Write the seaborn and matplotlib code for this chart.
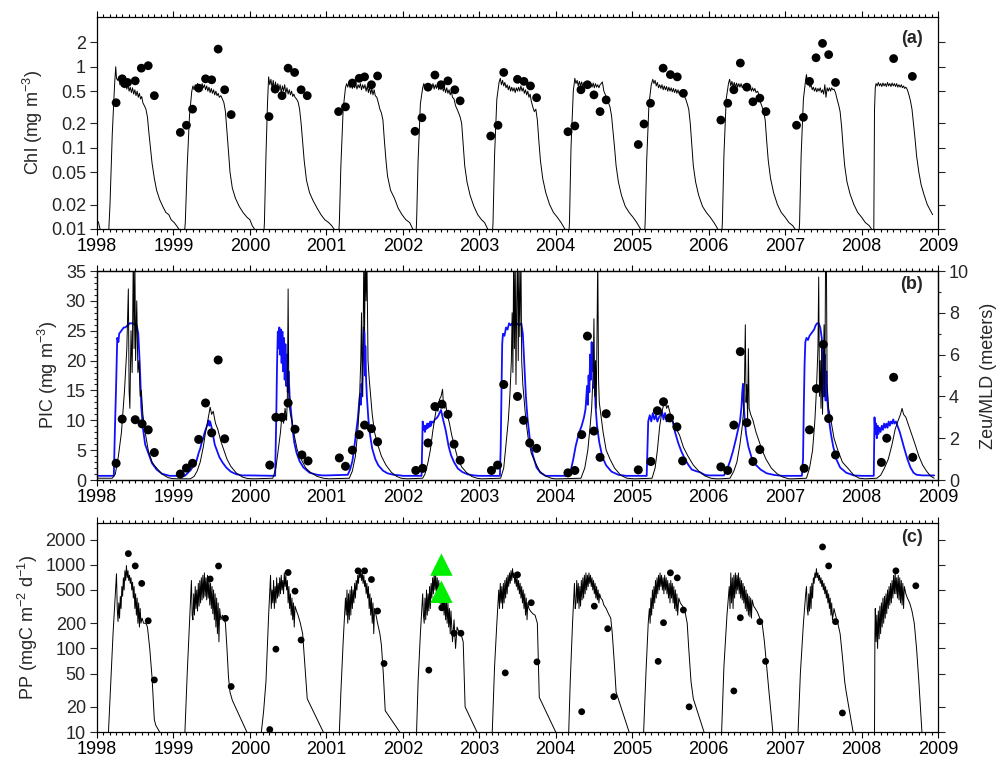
import matplotlib
matplotlib.use("Agg")
import pandas as pd
import matplotlib.pyplot as plt
from matplotlib.ticker import MultipleLocator, FixedLocator, NullLocator, FuncFormatter
import seaborn as sns

########################################################################################################################################
# panel (a) : modelled Chl (line) and observed Chl (dots), mg m-3

chl_line = [
    (1998.00,0.013),(1998.02,0.012),(1998.04,0.010),(1998.06,0.008),(1998.15,0.008),(1998.17,0.02),(1998.20,0.15),(1998.23,0.6),
    (1998.245,1.0),(1998.255,0.72),(1998.27,0.68),(1998.285,0.75),(1998.30,0.6),(1998.315,0.68),(1998.33,0.57),(1998.345,0.64),
    (1998.36,0.55),(1998.375,0.62),(1998.39,0.53),(1998.405,0.6),(1998.42,0.5),(1998.435,0.56),(1998.45,0.48),(1998.465,0.55),
    (1998.48,0.46),(1998.495,0.52),(1998.51,0.44),(1998.525,0.5),(1998.54,0.42),(1998.555,0.47),(1998.57,0.4),(1998.585,0.43),
    (1998.60,0.36),(1998.62,0.33),(1998.64,0.3),(1998.66,0.24),(1998.68,0.15),(1998.70,0.1),(1998.72,0.065),(1998.75,0.042),
    (1998.78,0.03),(1998.82,0.023),(1998.86,0.019),(1998.90,0.016),(1998.94,0.015),(1998.97,0.013),(1999.01,0.012),(1999.04,0.011),
    (1999.07,0.010),(1999.09,0.008),
    (1999.14,0.008),(1999.155,0.012),(1999.18,0.06),(1999.21,0.25),(1999.24,0.5),(1999.255,0.58),(1999.27,0.52),(1999.285,0.6),
    (1999.30,0.54),(1999.315,0.62),(1999.33,0.55),(1999.345,0.6),(1999.36,0.53),(1999.375,0.62),(1999.39,0.55),(1999.405,0.6),
    (1999.42,0.52),(1999.435,0.58),(1999.45,0.5),(1999.465,0.56),(1999.48,0.48),(1999.495,0.54),(1999.51,0.47),(1999.525,0.52),
    (1999.54,0.45),(1999.555,0.5),(1999.57,0.44),(1999.585,0.47),(1999.60,0.42),(1999.62,0.44),(1999.64,0.4),(1999.66,0.36),
    (1999.68,0.28),(1999.70,0.16),(1999.72,0.09),(1999.74,0.05),(1999.77,0.032),(1999.81,0.024),(1999.86,0.019),(1999.91,0.016),
    (1999.96,0.014),(2000.00,0.013),(2000.03,0.011),(2000.06,0.010),(2000.08,0.008),
    (2000.18,0.008),(2000.19,0.012),(2000.21,0.08),(2000.23,0.35),(2000.245,0.75),(2000.26,0.6),(2000.275,0.7),(2000.29,0.55),
    (2000.305,0.68),(2000.32,0.52),(2000.335,0.65),(2000.35,0.5),(2000.365,0.62),(2000.38,0.52),(2000.395,0.6),(2000.41,0.48),
    (2000.425,0.58),(2000.44,0.5),(2000.455,0.6),(2000.47,0.47),(2000.485,0.55),(2000.50,0.46),(2000.515,0.52),(2000.53,0.45),
    (2000.545,0.5),(2000.56,0.43),(2000.575,0.46),(2000.59,0.42),(2000.61,0.4),(2000.63,0.37),(2000.65,0.3),(2000.67,0.2),
    (2000.69,0.12),(2000.71,0.07),(2000.74,0.04),(2000.78,0.028),(2000.83,0.022),(2000.88,0.018),(2000.93,0.015),(2000.98,0.013),
    (2001.03,0.012),(2001.07,0.011),(2001.10,0.010),(2001.12,0.008),
    (2001.16,0.008),(2001.17,0.012),(2001.19,0.06),(2001.22,0.3),(2001.25,0.55),(2001.265,0.62),(2001.28,0.56),(2001.295,0.64),
    (2001.31,0.55),(2001.325,0.62),(2001.34,0.54),(2001.355,0.6),(2001.37,0.55),(2001.385,0.62),(2001.40,0.53),(2001.415,0.6),
    (2001.43,0.55),(2001.445,0.62),(2001.46,0.52),(2001.475,0.6),(2001.49,0.54),(2001.505,0.6),(2001.52,0.5),(2001.535,0.58),
    (2001.55,0.48),(2001.565,0.56),(2001.58,0.46),(2001.595,0.54),(2001.61,0.45),(2001.625,0.52),(2001.64,0.44),(2001.66,0.42),
    (2001.68,0.36),(2001.70,0.3),(2001.72,0.27),(2001.74,0.22),(2001.76,0.12),(2001.78,0.07),(2001.80,0.045),(2001.84,0.03),
    (2001.89,0.024),(2001.94,0.018),(2001.99,0.015),(2002.04,0.013),(2002.09,0.012),(2002.13,0.010),(2002.15,0.008),
    (2002.17,0.008),(2002.18,0.012),(2002.20,0.07),(2002.23,0.35),(2002.26,0.55),(2002.275,0.62),(2002.29,0.54),(2002.305,0.6),
    (2002.32,0.55),(2002.335,0.62),(2002.35,0.54),(2002.365,0.6),(2002.38,0.55),(2002.395,0.62),(2002.41,0.53),(2002.425,0.6),
    (2002.44,0.54),(2002.455,0.62),(2002.47,0.52),(2002.485,0.58),(2002.50,0.52),(2002.515,0.58),(2002.53,0.5),(2002.545,0.56),
    (2002.56,0.48),(2002.575,0.55),(2002.59,0.47),(2002.605,0.52),(2002.62,0.45),(2002.635,0.5),(2002.65,0.42),(2002.67,0.4),
    (2002.69,0.33),(2002.71,0.3),(2002.73,0.27),(2002.75,0.24),(2002.77,0.2),(2002.79,0.11),(2002.81,0.06),(2002.84,0.038),
    (2002.88,0.026),(2002.93,0.019),(2002.98,0.015),(2003.03,0.013),(2003.07,0.012),(2003.11,0.010),(2003.13,0.008),
    (2003.17,0.008),(2003.18,0.012),(2003.20,0.08),(2003.23,0.4),(2003.26,0.65),(2003.275,0.72),(2003.29,0.6),(2003.305,0.68),
    (2003.32,0.58),(2003.335,0.64),(2003.35,0.55),(2003.365,0.6),(2003.38,0.52),(2003.395,0.58),(2003.41,0.5),(2003.425,0.56),
    (2003.44,0.5),(2003.455,0.55),(2003.47,0.48),(2003.485,0.55),(2003.50,0.5),(2003.515,0.56),(2003.53,0.5),(2003.545,0.58),
    (2003.56,0.5),(2003.575,0.55),(2003.59,0.47),(2003.605,0.52),(2003.62,0.45),(2003.635,0.5),(2003.65,0.42),(2003.665,0.46),
    (2003.68,0.38),(2003.70,0.32),(2003.72,0.28),(2003.74,0.3),(2003.76,0.22),(2003.78,0.12),(2003.80,0.07),(2003.83,0.042),
    (2003.87,0.028),(2003.92,0.02),(2003.97,0.016),(2004.02,0.014),(2004.07,0.012),(2004.12,0.010),(2004.14,0.008),
    (2004.17,0.008),(2004.18,0.012),(2004.20,0.1),(2004.23,0.5),(2004.25,0.72),(2004.265,0.62),(2004.28,0.68),(2004.295,0.58),
    (2004.31,0.66),(2004.325,0.58),(2004.34,0.65),(2004.355,0.57),(2004.37,0.64),(2004.385,0.58),(2004.40,0.65),(2004.415,0.57),
    (2004.43,0.63),(2004.445,0.56),(2004.46,0.62),(2004.475,0.56),(2004.49,0.63),(2004.505,0.55),(2004.52,0.62),(2004.535,0.56),
    (2004.55,0.6),(2004.565,0.55),(2004.58,0.6),(2004.595,0.62),(2004.61,0.65),(2004.63,0.5),(2004.65,0.45),(2004.67,0.4),
    (2004.69,0.36),(2004.71,0.32),(2004.73,0.25),(2004.75,0.16),(2004.77,0.1),(2004.79,0.06),(2004.82,0.038),(2004.86,0.026),
    (2004.91,0.019),(2004.96,0.016),(2005.01,0.014),(2005.06,0.012),(2005.11,0.010),(2005.13,0.008),
    (2005.16,0.008),(2005.17,0.012),(2005.19,0.07),(2005.22,0.35),(2005.25,0.6),(2005.27,0.7),(2005.285,0.62),(2005.30,0.68),
    (2005.315,0.58),(2005.33,0.64),(2005.345,0.55),(2005.36,0.6),(2005.375,0.54),(2005.39,0.6),(2005.405,0.52),(2005.42,0.58),
    (2005.435,0.52),(2005.45,0.57),(2005.465,0.5),(2005.48,0.56),(2005.495,0.5),(2005.51,0.55),(2005.525,0.49),(2005.54,0.54),
    (2005.555,0.48),(2005.57,0.53),(2005.585,0.47),(2005.60,0.52),(2005.615,0.46),(2005.63,0.5),(2005.645,0.45),(2005.66,0.48),
    (2005.68,0.44),(2005.70,0.4),(2005.72,0.35),(2005.74,0.3),(2005.76,0.2),(2005.78,0.11),(2005.80,0.06),(2005.83,0.038),
    (2005.87,0.026),(2005.92,0.019),(2005.97,0.016),(2006.02,0.014),(2006.07,0.012),(2006.12,0.010),(2006.14,0.008),
    (2006.17,0.008),(2006.18,0.012),(2006.20,0.08),(2006.23,0.4),(2006.26,0.62),(2006.275,0.7),(2006.29,0.58),(2006.305,0.66),
    (2006.32,0.56),(2006.335,0.64),(2006.35,0.56),(2006.365,0.63),(2006.38,0.56),(2006.395,0.62),(2006.41,0.56),(2006.425,0.62),
    (2006.44,0.55),(2006.455,0.6),(2006.47,0.54),(2006.485,0.6),(2006.50,0.53),(2006.515,0.58),(2006.53,0.52),(2006.545,0.57),
    (2006.56,0.5),(2006.575,0.55),(2006.59,0.5),(2006.605,0.54),(2006.62,0.48),(2006.64,0.5),(2006.66,0.45),(2006.68,0.36),
    (2006.70,0.32),(2006.72,0.28),(2006.74,0.22),(2006.76,0.12),(2006.78,0.07),(2006.81,0.042),(2006.85,0.028),(2006.90,0.02),
    (2006.95,0.016),(2007.00,0.014),(2007.05,0.012),(2007.10,0.011),(2007.13,0.010),(2007.15,0.008),
    (2007.18,0.008),(2007.19,0.012),(2007.21,0.08),(2007.24,0.4),(2007.27,0.7),(2007.28,0.8),(2007.295,0.62),(2007.31,0.66),
    (2007.325,0.56),(2007.34,0.6),(2007.355,0.52),(2007.37,0.56),(2007.385,0.5),(2007.40,0.55),(2007.415,0.49),(2007.43,0.54),
    (2007.445,0.5),(2007.46,0.55),(2007.475,0.48),(2007.49,0.52),(2007.505,0.46),(2007.52,0.6),(2007.535,0.42),(2007.55,0.55),
    (2007.565,0.5),(2007.58,0.55),(2007.595,0.5),(2007.61,0.55),(2007.625,0.52),(2007.64,0.53),(2007.66,0.48),(2007.68,0.4),
    (2007.70,0.34),(2007.72,0.28),(2007.74,0.18),(2007.76,0.1),(2007.78,0.06),(2007.81,0.038),(2007.85,0.027),(2007.90,0.02),
    (2007.95,0.016),(2008.00,0.014),(2008.05,0.012),(2008.10,0.011),(2008.13,0.010),(2008.15,0.008),
    (2008.16,0.008),(2008.165,0.05),(2008.17,0.3),(2008.18,0.55),(2008.19,0.62),(2008.205,0.58),(2008.22,0.64),(2008.235,0.58),
    (2008.25,0.62),(2008.265,0.57),(2008.28,0.63),(2008.295,0.58),(2008.31,0.62),(2008.325,0.57),(2008.34,0.64),(2008.355,0.58),
    (2008.37,0.62),(2008.385,0.57),(2008.40,0.63),(2008.415,0.58),(2008.43,0.62),(2008.445,0.57),(2008.46,0.62),(2008.475,0.56),
    (2008.49,0.6),(2008.505,0.56),(2008.52,0.6),(2008.535,0.55),(2008.55,0.58),(2008.565,0.54),(2008.58,0.56),(2008.60,0.52),
    (2008.62,0.45),(2008.64,0.38),(2008.66,0.3),(2008.68,0.2),(2008.70,0.13),(2008.72,0.08),(2008.75,0.05),(2008.78,0.035),
    (2008.82,0.026),(2008.86,0.02),(2008.90,0.017),(2008.93,0.015),
]

chl_obs_t = [1998.25,1998.33,1998.36,1998.40,1998.50,1998.58,1998.67,1998.75,
             1999.09,1999.17,1999.25,1999.33,1999.42,1999.50,1999.585,1999.67,1999.755,
             2000.25,2000.33,2000.42,2000.50,2000.585,2000.67,2000.75,
             2001.16,2001.25,2001.34,2001.43,2001.50,2001.59,2001.67,
             2002.16,2002.25,2002.33,2002.42,2002.50,2002.59,2002.68,2002.75,
             2003.15,2003.245,2003.32,2003.50,2003.585,2003.67,2003.75,
             2004.16,2004.25,2004.33,2004.415,2004.50,2004.58,2004.66,
             2005.08,2005.155,2005.24,2005.405,2005.50,2005.59,2005.67,
             2006.16,2006.25,2006.33,2006.415,2006.50,2006.58,2006.67,2006.75,
             2007.15,2007.24,2007.32,2007.405,2007.49,2007.57,2007.66,
             2008.42,2008.665]
chl_obs_v = [0.36,0.71,0.62,0.64,0.67,0.96,1.03,0.44,
             0.155,0.19,0.30,0.545,0.71,0.69,1.65,0.52,0.257,
             0.243,0.53,0.44,0.96,0.85,0.52,0.44,
             0.28,0.32,0.63,0.72,0.75,0.60,0.77,
             0.16,0.235,0.56,0.79,0.60,0.67,0.52,0.38,
             0.14,0.19,0.85,0.70,0.66,0.58,0.415,
             0.158,0.186,0.52,0.60,0.45,0.28,0.39,
             0.11,0.197,0.355,0.96,0.80,0.75,0.47,
             0.22,0.355,0.52,1.11,0.56,0.37,0.41,0.28,
             0.19,0.238,0.66,1.29,1.94,1.41,0.64,
             1.26,0.76]

########################################################################################################################################
# panel (b) : modelled PIC (black, mg m-3), Zeu/MLD (blue, meters, right axis), observed PIC (dots)

pic_line = [
    (1998.00,0.3),(1998.20,0.3),(1998.24,1),(1998.28,4),(1998.32,8),(1998.36,15),(1998.39,22),(1998.41,32),(1998.42,15),
    (1998.43,12),(1998.445,25),(1998.46,18),(1998.475,38),(1998.485,22),(1998.495,38),(1998.505,20),(1998.52,30),(1998.535,18),
    (1998.55,20),(1998.565,14),(1998.58,15),(1998.60,11),(1998.63,8),(1998.67,5),(1998.72,3),(1998.76,2.3),(1998.85,1),
    (1998.93,0.4),(1998.98,0.25),
    (1999.05,0.2),(1999.22,0.2),(1999.27,0.6),(1999.31,1.5),(1999.35,3),(1999.39,5.5),(1999.42,8),(1999.45,10),(1999.47,11.5),
    (1999.48,12.2),(1999.50,11),(1999.52,11.5),(1999.55,9.5),(1999.58,8.5),(1999.62,6.5),(1999.66,5),(1999.70,3.5),(1999.75,2.3),
    (1999.82,1.2),(1999.90,0.5),(1999.97,0.25),
    (2000.05,0.2),(2000.30,0.3),(2000.34,2),(2000.37,5),(2000.40,8),(2000.42,11),(2000.44,9.5),(2000.46,12),(2000.48,10),
    (2000.49,14),(2000.50,32),(2000.51,13),(2000.53,11),(2000.55,10),(2000.58,7.5),(2000.62,5),(2000.67,3.5),(2000.73,2),
    (2000.80,1.2),(2000.88,0.6),(2000.96,0.3),
    (2001.03,0.2),(2001.30,0.3),(2001.34,1.5),(2001.38,4),(2001.41,8),(2001.43,12),(2001.45,20),(2001.46,28),(2001.47,14),
    (2001.48,22),(2001.49,38),(2001.50,25),(2001.51,38),(2001.52,30),(2001.53,38),(2001.545,20),(2001.56,17),(2001.58,14),
    (2001.60,11),(2001.63,8),(2001.67,6),(2001.72,4),(2001.78,2.5),(2001.85,1.3),(2001.92,0.6),(2001.98,0.3),
    (2002.05,0.2),(2002.26,0.3),(2002.29,1),(2002.33,3),(2002.36,5),(2002.39,8),(2002.42,10.5),(2002.44,12),(2002.46,11.5),
    (2002.48,13.5),(2002.50,14),(2002.52,15.2),(2002.53,13),(2002.55,12),(2002.56,13),(2002.58,11),(2002.61,9.5),(2002.64,7.5),
    (2002.68,5.5),(2002.72,3.5),(2002.77,2.2),(2002.83,1.3),(2002.90,0.6),(2002.97,0.3),
    (2003.03,0.2),(2003.28,0.3),(2003.32,2),(2003.35,6),(2003.38,10),(2003.40,14),(2003.42,20),(2003.43,28),(2003.44,18),
    (2003.45,38),(2003.46,22),(2003.47,38),(2003.48,16),(2003.49,30),(2003.50,38),(2003.51,20),(2003.52,38),(2003.53,24),
    (2003.545,38),(2003.555,20),(2003.57,16),(2003.59,13),(2003.61,10),(2003.64,7),(2003.68,4.5),(2003.73,3),(2003.79,1.5),
    (2003.86,0.7),(2003.94,0.3),(2003.99,0.2),
    (2004.05,0.2),(2004.33,0.3),(2004.38,2),(2004.42,5),(2004.45,9),(2004.47,12),(2004.49,18),(2004.50,27),(2004.51,14),
    (2004.52,20),(2004.53,12),(2004.54,24),(2004.55,38),(2004.56,17),(2004.57,13),(2004.59,11),(2004.62,8),(2004.66,5),
    (2004.71,3.5),(2004.77,2),(2004.85,0.8),(2004.93,0.3),
    (2005.03,0.2),(2005.26,0.3),(2005.30,2),(2005.33,5),(2005.36,9),(2005.39,11.5),(2005.41,12.5),(2005.43,13.5),(2005.45,12),
    (2005.47,12.5),(2005.50,11),(2005.54,9.5),(2005.58,8.5),(2005.62,7.5),(2005.67,5.5),(2005.73,4),(2005.80,2.5),(2005.87,1.5),
    (2005.95,0.7),(2006.03,0.3),(2006.10,0.2),
    (2006.15,0.2),(2006.28,0.3),(2006.33,1.5),(2006.37,3),(2006.41,6),(2006.44,9),(2006.46,12),(2006.47,17),(2006.48,26),
    (2006.49,13),(2006.50,16),(2006.51,10),(2006.52,22),(2006.53,12),(2006.55,11),(2006.58,10),(2006.62,8),(2006.66,6.5),
    (2006.70,5),(2006.75,3.5),(2006.82,2),(2006.90,1),(2006.97,0.5),(2007.05,0.2),
    (2007.10,0.2),(2007.28,0.3),(2007.32,2),(2007.36,5),(2007.39,10),(2007.41,15),(2007.43,22),(2007.44,34),(2007.45,14),
    (2007.46,20),(2007.47,12),(2007.48,22),(2007.49,11),(2007.50,18),(2007.51,26),(2007.52,14),(2007.53,38),(2007.54,38),
    (2007.55,16),(2007.57,12),(2007.60,10),(2007.64,7),(2007.69,5),(2007.75,3),(2007.82,2),(2007.90,0.8),(2007.97,0.3),
    (2008.05,0.2),(2008.20,0.3),(2008.25,0.8),(2008.30,2),(2008.35,3.5),(2008.40,6),(2008.44,8.5),(2008.48,10),(2008.51,11),
    (2008.53,12),(2008.55,11),(2008.58,10.5),(2008.62,9),(2008.66,7.5),(2008.70,6),(2008.75,4),(2008.80,2.5),(2008.85,1.5),
    (2008.90,0.7),(2008.95,0.3),
]

zeu_mld_line = [
    (1998.00,0.2),(1998.22,0.2),(1998.235,2.5),(1998.25,4.5),(1998.265,6.8),(1998.28,6.6),(1998.29,7.0),(1998.31,7.1),
    (1998.33,7.2),(1998.35,7.3),(1998.37,7.3),(1998.40,7.4),(1998.43,7.5),(1998.46,7.5),(1998.49,7.45),(1998.52,7.4),
    (1998.54,7.0),(1998.56,5.5),(1998.58,3.5),(1998.60,2.5),(1998.63,1.7),(1998.67,1.3),(1998.72,0.8),(1998.78,0.5),
    (1998.85,0.3),(1998.95,0.2),
    (1999.00,0.2),(1999.15,0.2),(1999.19,0.35),(1999.23,0.5),(1999.27,0.75),(1999.30,0.9),(1999.33,1.3),(1999.35,1.5),
    (1999.37,1.8),(1999.39,2.0),(1999.41,2.3),(1999.43,2.5),(1999.45,2.7),(1999.46,2.85),(1999.47,2.6),(1999.48,2.8),
    (1999.50,2.5),(1999.52,2.1),(1999.54,1.7),(1999.57,1.4),(1999.60,1.1),(1999.64,0.85),(1999.69,0.6),(1999.75,0.4),
    (1999.82,0.28),(1999.90,0.22),
    (2000.00,0.22),(2000.33,0.2),(2000.345,3),(2000.355,5.5),(2000.365,7.1),(2000.375,6.3),(2000.385,7.3),(2000.395,6.0),
    (2000.405,7.2),(2000.415,5.6),(2000.425,7.1),(2000.435,5.2),(2000.445,6.8),(2000.455,4.8),(2000.465,6.5),(2000.475,4.5),
    (2000.485,6.0),(2000.495,4.2),(2000.505,5.2),(2000.52,4.0),(2000.54,3.2),(2000.56,2.4),(2000.58,1.8),(2000.61,1.3),
    (2000.65,0.9),(2000.70,0.6),(2000.78,0.35),(2000.88,0.25),(2000.95,0.22),
    (2001.00,0.22),(2001.28,0.25),(2001.31,0.5),(2001.34,0.9),(2001.36,1.4),(2001.38,2.0),(2001.40,2.6),(2001.41,2.9),
    (2001.42,3.3),(2001.43,3.8),(2001.44,4.1),(2001.45,3.6),(2001.46,4.6),(2001.47,4.0),(2001.48,5.8),(2001.485,6.8),
    (2001.49,7.3),(2001.50,7.0),(2001.505,5.0),(2001.51,6.4),(2001.52,4.8),(2001.53,4.0),(2001.55,2.9),(2001.57,2.2),
    (2001.60,1.5),(2001.64,1.0),(2001.68,0.7),(2001.74,0.45),(2001.80,0.32),(2001.88,0.25),(2001.97,0.22),
    (2002.00,0.2),(2002.245,0.2),(2002.255,2.0),(2002.26,2.8),(2002.27,2.4),(2002.28,2.6),(2002.29,2.3),(2002.30,2.6),
    (2002.31,2.45),(2002.32,2.7),(2002.33,2.5),(2002.34,2.7),(2002.35,2.55),(2002.36,2.8),(2002.37,2.6),(2002.38,2.8),
    (2002.40,2.75),(2002.42,2.9),(2002.44,2.95),(2002.46,3.05),(2002.48,3.2),(2002.50,3.35),(2002.52,3.0),(2002.54,2.7),
    (2002.56,2.4),(2002.58,2.0),(2002.60,1.6),(2002.63,1.2),(2002.67,0.85),(2002.72,0.55),(2002.78,0.38),(2002.85,0.27),
    (2002.93,0.22),
    (2003.00,0.2),(2003.27,0.2),(2003.28,1.5),(2003.29,4),(2003.30,6.5),(2003.31,7.0),(2003.33,6.9),(2003.35,7.3),
    (2003.37,7.2),(2003.39,7.5),(2003.41,7.4),(2003.43,7.5),(2003.46,7.4),(2003.49,7.5),(2003.52,7.4),(2003.55,7.5),
    (2003.57,7.0),(2003.59,5.5),(2003.61,4.0),(2003.63,3.0),(2003.66,2.0),(2003.70,1.2),(2003.75,0.6),(2003.80,0.35),
    (2003.87,0.2),
    (2004.00,0.2),(2004.17,0.2),(2004.20,0.5),(2004.23,1.0),(2004.26,1.6),(2004.30,2.2),(2004.34,2.6),(2004.37,3.0),
    (2004.39,3.4),(2004.41,4.5),(2004.42,3.6),(2004.43,5.0),(2004.44,4.2),(2004.45,6.0),(2004.46,4.8),(2004.47,6.6),
    (2004.48,5.2),(2004.49,5.8),(2004.50,4.4),(2004.51,5.0),(2004.52,3.6),(2004.54,2.6),(2004.57,1.8),(2004.61,1.1),
    (2004.66,0.7),(2004.73,0.4),(2004.82,0.25),(2004.92,0.2),
    (2005.00,0.2),(2005.19,0.2),(2005.20,1.5),(2005.21,2.8),(2005.23,3.1),(2005.25,2.8),(2005.27,3.2),(2005.29,2.9),
    (2005.31,3.1),(2005.33,2.8),(2005.35,3.0),(2005.37,3.1),(2005.39,3.3),(2005.41,2.9),(2005.43,3.2),(2005.45,2.8),
    (2005.47,3.0),(2005.50,3.1),(2005.53,2.8),(2005.56,2.3),(2005.60,1.8),(2005.64,1.4),(2005.69,1.0),(2005.74,0.7),
    (2005.78,0.5),(2005.84,0.42),(2005.88,0.38),(2005.95,0.25),
    (2006.00,0.22),(2006.20,0.22),(2006.24,0.5),(2006.28,0.9),(2006.32,1.4),(2006.36,2.0),(2006.39,2.5),(2006.41,2.8),
    (2006.43,3.5),(2006.44,4.2),(2006.45,4.6),(2006.46,3.6),(2006.47,3.0),(2006.49,2.2),(2006.52,1.6),(2006.56,1.1),
    (2006.61,0.75),(2006.68,0.5),(2006.76,0.32),(2006.86,0.24),(2006.96,0.2),
    (2007.00,0.2),(2007.22,0.2),(2007.235,1),(2007.245,3.5),(2007.255,5.5),(2007.265,6.6),(2007.28,6.8),(2007.30,6.7),
    (2007.32,6.9),(2007.34,7.0),(2007.36,7.1),(2007.38,7.2),(2007.40,7.4),(2007.42,7.5),(2007.44,7.5),(2007.46,7.3),
    (2007.48,6.8),(2007.49,4.5),(2007.50,6.2),(2007.51,4.0),(2007.52,6.0),(2007.53,3.8),(2007.54,5.2),(2007.55,4.0),
    (2007.57,3.0),(2007.60,2.2),(2007.63,1.6),(2007.67,1.0),(2007.72,0.6),(2007.80,0.35),(2007.90,0.22),
    (2008.00,0.2),(2008.16,0.2),(2008.165,1.5),(2008.17,3.0),(2008.18,2.2),(2008.19,2.7),(2008.20,2.0),(2008.21,2.6),
    (2008.22,2.2),(2008.235,2.5),(2008.25,2.3),(2008.265,2.6),(2008.28,2.4),(2008.295,2.7),(2008.31,2.5),(2008.325,2.7),
    (2008.34,2.5),(2008.355,2.8),(2008.37,2.6),(2008.385,2.8),(2008.40,2.7),(2008.415,2.9),(2008.43,2.7),(2008.45,2.8),
    (2008.47,2.6),(2008.50,2.3),(2008.53,1.9),(2008.56,1.5),(2008.60,1.0),(2008.64,0.6),(2008.68,0.35),(2008.72,0.25),
    (2008.80,0.22),(2008.95,0.22),
]

pic_obs_t = [1998.25,1998.33,1998.50,1998.59,1998.67,1998.75,
             1999.09,1999.17,1999.25,1999.33,1999.42,1999.50,1999.585,1999.67,
             2000.26,2000.34,2000.42,2000.50,2000.59,2000.68,2000.76,
             2001.17,2001.25,2001.34,2001.43,2001.50,2001.59,2001.67,
             2002.17,2002.26,2002.33,2002.42,2002.51,2002.59,2002.67,2002.75,
             2003.16,2003.24,2003.32,2003.50,2003.58,2003.66,2003.75,
             2004.16,2004.25,2004.34,2004.415,2004.50,2004.58,2004.66,
             2005.08,2005.245,2005.33,2005.41,2005.49,2005.585,2005.66,
             2006.16,2006.25,2006.33,2006.415,2006.50,2006.58,2006.67,
             2007.25,2007.32,2007.41,2007.50,2007.57,2007.66,
             2008.26,2008.33,2008.42,2008.67]
pic_obs_v = [2.8,10.2,10.1,9.4,8.4,4.6,
             1.0,2.0,2.8,6.8,12.9,7.9,20.1,6.9,
             2.5,10.5,10.5,12.9,8.5,4.2,3.2,
             3.7,2.3,5.0,7.6,9.2,8.6,6.4,
             1.6,1.95,6.2,12.3,12.7,11.0,6.0,3.3,
             1.6,2.5,16.0,14.0,10.0,6.2,5.3,
             1.2,1.6,7.6,24.1,8.2,3.8,11.1,
             1.7,3.1,11.6,13.1,10.4,8.9,3.2,
             2.2,1.6,9.2,21.5,9.6,3.1,5.1,
             1.95,8.4,15.3,22.7,10.3,4.2,
             2.95,7.0,17.2,3.8]

########################################################################################################################################
# panel (c) : modelled PP (line), observed PP (dots), extra estimates (green triangles), mgC m-2 d-1

pp_line = [
    (1998.13,6),(1998.15,10),(1998.18,40),(1998.21,150),(1998.24,450),(1998.255,780),(1998.265,300),(1998.275,210),
    (1998.285,350),(1998.295,230),(1998.305,420),(1998.315,300),(1998.325,550),(1998.335,420),(1998.345,700),(1998.355,500),
    (1998.365,850),(1998.375,650),(1998.385,980),(1998.395,700),(1998.405,850),(1998.415,650),(1998.425,750),(1998.435,600),
    (1998.445,700),(1998.455,500),(1998.465,620),(1998.475,400),(1998.485,550),(1998.495,300),(1998.505,450),(1998.515,250),
    (1998.525,400),(1998.535,200),(1998.545,350),(1998.555,180),(1998.565,300),(1998.575,200),(1998.59,230),(1998.61,200),
    (1998.64,200),(1998.66,180),(1998.69,100),(1998.72,45),(1998.75,14),(1998.77,12),(1998.82,10),(1998.84,7),
    (1999.14,6),(1999.15,10),(1999.18,50),(1999.21,200),(1999.235,650),(1999.245,250),(1999.255,220),(1999.265,450),
    (1999.275,250),(1999.285,550),(1999.295,300),(1999.305,500),(1999.315,280),(1999.325,600),(1999.335,320),(1999.345,650),
    (1999.355,350),(1999.365,700),(1999.375,380),(1999.385,750),(1999.395,400),(1999.405,800),(1999.415,420),(1999.425,700),
    (1999.435,380),(1999.445,750),(1999.455,400),(1999.465,650),(1999.475,330),(1999.485,600),(1999.495,300),(1999.505,550),
    (1999.515,260),(1999.525,500),(1999.535,220),(1999.545,450),(1999.555,180),(1999.565,400),(1999.575,150),(1999.585,350),
    (1999.595,120),(1999.605,300),(1999.62,220),(1999.64,250),(1999.66,230),(1999.68,200),(1999.70,100),(1999.72,45),
    (1999.74,30),(1999.77,24),(1999.96,10),(1999.98,7),
    (2000.14,6),(2000.15,10),(2000.18,18),(2000.21,40),(2000.245,250),(2000.27,750),(2000.28,300),(2000.29,500),
    (2000.30,350),(2000.31,650),(2000.32,300),(2000.33,550),(2000.34,350),(2000.35,700),(2000.36,400),(2000.37,600),
    (2000.38,420),(2000.39,700),(2000.40,450),(2000.41,750),(2000.42,500),(2000.43,650),(2000.44,450),(2000.45,800),
    (2000.46,550),(2000.47,750),(2000.48,500),(2000.49,650),(2000.50,350),(2000.51,550),(2000.52,300),(2000.53,450),
    (2000.54,250),(2000.55,400),(2000.56,220),(2000.57,350),(2000.58,180),(2000.59,320),(2000.61,280),(2000.63,250),
    (2000.66,200),(2000.69,150),(2000.72,60),(2000.75,25),(2000.96,10),(2000.98,7),
    (2001.16,6),(2001.17,10),(2001.19,30),(2001.22,120),(2001.25,400),(2001.26,250),(2001.27,500),(2001.28,200),
    (2001.29,450),(2001.30,220),(2001.31,500),(2001.32,250),(2001.33,550),(2001.34,300),(2001.35,500),(2001.36,350),
    (2001.37,600),(2001.38,400),(2001.39,650),(2001.40,500),(2001.41,750),(2001.42,600),(2001.43,850),(2001.44,700),
    (2001.45,850),(2001.46,650),(2001.47,800),(2001.48,600),(2001.49,750),(2001.50,550),(2001.51,650),(2001.52,450),
    (2001.53,600),(2001.54,400),(2001.55,550),(2001.56,300),(2001.57,450),(2001.58,250),(2001.59,400),(2001.60,200),
    (2001.61,350),(2001.62,150),(2001.63,300),(2001.65,250),(2001.67,200),(2001.70,150),(2001.72,110),(2001.745,50),
    (2001.77,18),(2001.96,10),(2001.98,7),
    (2002.17,6),(2002.18,10),(2002.20,40),(2002.23,150),(2002.26,450),(2002.27,250),(2002.28,200),(2002.29,400),
    (2002.30,220),(2002.31,500),(2002.32,250),(2002.33,450),(2002.34,280),(2002.35,550),(2002.36,300),(2002.37,600),
    (2002.38,400),(2002.39,700),(2002.40,450),(2002.41,800),(2002.42,500),(2002.43,750),(2002.44,450),(2002.45,700),
    (2002.46,400),(2002.47,650),(2002.48,350),(2002.49,600),(2002.50,320),(2002.51,500),(2002.52,300),(2002.53,450),
    (2002.54,250),(2002.55,400),(2002.56,220),(2002.57,380),(2002.58,200),(2002.59,350),(2002.60,180),(2002.61,300),
    (2002.62,150),(2002.63,280),(2002.65,120),(2002.67,220),(2002.69,100),(2002.71,180),(2002.73,160),(2002.76,150),
    (2002.79,120),(2002.815,20),(2002.97,10),(2002.99,7),
    (2003.16,6),(2003.17,10),(2003.20,60),(2003.23,200),(2003.255,500),(2003.265,300),(2003.275,600),(2003.285,350),
    (2003.295,550),(2003.305,300),(2003.315,600),(2003.325,350),(2003.335,650),(2003.345,400),(2003.355,700),(2003.365,450),
    (2003.375,750),(2003.385,550),(2003.395,800),(2003.405,600),(2003.415,850),(2003.425,650),(2003.435,900),(2003.445,700),
    (2003.455,800),(2003.465,600),(2003.475,750),(2003.485,550),(2003.495,700),(2003.505,500),(2003.515,650),(2003.525,450),
    (2003.535,600),(2003.545,400),(2003.555,550),(2003.565,350),(2003.575,500),(2003.585,300),(2003.595,450),(2003.605,250),
    (2003.615,400),(2003.625,220),(2003.635,350),(2003.65,300),(2003.67,280),(2003.70,260),(2003.73,250),(2003.76,200),
    (2003.785,26),(2004.00,10),(2004.02,7),
    (2004.16,6),(2004.17,10),(2004.19,40),(2004.22,200),(2004.245,600),(2004.255,300),(2004.265,350),(2004.275,650),
    (2004.285,350),(2004.295,600),(2004.305,300),(2004.315,550),(2004.325,320),(2004.335,650),(2004.345,380),(2004.355,700),
    (2004.365,400),(2004.375,750),(2004.385,450),(2004.395,800),(2004.405,500),(2004.415,750),(2004.425,550),(2004.435,800),
    (2004.445,600),(2004.455,750),(2004.465,550),(2004.475,700),(2004.485,500),(2004.495,650),(2004.505,450),(2004.515,600),
    (2004.525,400),(2004.535,550),(2004.545,380),(2004.555,500),(2004.565,350),(2004.575,450),(2004.59,400),(2004.61,380),
    (2004.63,330),(2004.66,300),(2004.69,260),(2004.72,230),(2004.74,150),(2004.77,60),(2004.79,30),(2004.96,10),(2004.98,7),
    (2005.14,6),(2005.15,10),(2005.18,50),(2005.21,200),(2005.225,300),(2005.235,200),(2005.245,400),(2005.255,250),
    (2005.265,500),(2005.275,300),(2005.285,550),(2005.295,350),(2005.305,650),(2005.315,400),(2005.325,700),(2005.335,450),
    (2005.345,750),(2005.355,500),(2005.365,800),(2005.375,550),(2005.385,750),(2005.395,500),(2005.405,700),(2005.415,450),
    (2005.425,750),(2005.435,500),(2005.445,700),(2005.455,450),(2005.465,650),(2005.475,400),(2005.485,600),(2005.495,350),
    (2005.505,650),(2005.515,400),(2005.525,600),(2005.535,350),(2005.545,550),(2005.555,300),(2005.565,500),(2005.575,280),
    (2005.585,450),(2005.595,250),(2005.61,400),(2005.63,350),(2005.66,320),(2005.69,280),(2005.72,200),(2005.74,100),
    (2005.77,40),(2005.80,25),(2005.94,10),(2005.96,7),
    (2006.16,6),(2006.17,10),(2006.20,60),(2006.24,250),(2006.27,550),(2006.28,300),(2006.29,800),(2006.30,350),
    (2006.31,700),(2006.32,300),(2006.33,750),(2006.34,400),(2006.35,800),(2006.36,450),(2006.37,750),(2006.38,500),
    (2006.39,800),(2006.40,450),(2006.41,700),(2006.42,400),(2006.43,650),(2006.44,380),(2006.45,600),(2006.46,350),
    (2006.47,550),(2006.48,300),(2006.49,500),(2006.50,280),(2006.51,450),(2006.52,250),(2006.53,420),(2006.54,240),
    (2006.55,400),(2006.56,230),(2006.57,380),(2006.59,320),(2006.61,300),(2006.64,270),(2006.67,230),(2006.70,200),
    (2006.73,120),(2006.76,60),(2006.79,30),(2006.84,10),(2006.86,7),
    (2007.16,6),(2007.17,10),(2007.20,50),(2007.24,200),(2007.27,450),(2007.28,550),(2007.29,300),(2007.30,250),
    (2007.31,450),(2007.32,280),(2007.33,550),(2007.34,300),(2007.35,600),(2007.36,400),(2007.37,700),(2007.38,600),
    (2007.39,800),(2007.40,700),(2007.41,900),(2007.42,700),(2007.43,800),(2007.44,650),(2007.45,750),(2007.46,600),
    (2007.47,700),(2007.48,550),(2007.49,650),(2007.50,500),(2007.51,600),(2007.52,450),(2007.53,550),(2007.54,400),
    (2007.55,500),(2007.56,350),(2007.57,450),(2007.58,300),(2007.59,400),(2007.60,250),(2007.61,350),(2007.62,220),
    (2007.64,300),(2007.66,250),(2007.69,200),(2007.72,150),(2007.75,80),(2007.78,40),(2007.80,30),(2007.89,10),(2007.91,7),
    (2008.16,6),(2008.17,10),(2008.175,150),(2008.18,300),(2008.19,120),(2008.20,250),(2008.21,100),(2008.22,280),
    (2008.23,130),(2008.24,320),(2008.25,150),(2008.26,350),(2008.27,180),(2008.28,400),(2008.29,200),(2008.30,420),
    (2008.31,230),(2008.32,450),(2008.33,260),(2008.34,500),(2008.35,300),(2008.36,550),(2008.37,330),(2008.38,600),
    (2008.39,350),(2008.40,650),(2008.41,400),(2008.42,750),(2008.43,450),(2008.44,800),(2008.45,450),(2008.46,700),
    (2008.47,400),(2008.48,750),(2008.49,380),(2008.50,700),(2008.51,350),(2008.52,650),(2008.53,330),(2008.54,600),
    (2008.55,300),(2008.56,550),(2008.58,450),(2008.60,400),(2008.63,350),(2008.66,280),(2008.69,200),(2008.72,100),
    (2008.75,40),(2008.79,10),(2008.81,7),
]

pp_obs_t = [1998.41,1998.50,1998.585,1998.67,1998.75,
            1999.48,1999.59,1999.68,1999.755,
            2000.26,2000.34,2000.50,2000.59,2000.67,
            2001.415,2001.50,2001.59,2001.67,2001.755,
            2002.34,2002.51,2002.67,2002.76,
            2003.34,2003.50,2003.68,2003.755,
            2004.34,2004.505,2004.68,2004.76,
            2005.34,2005.41,2005.50,2005.59,2005.67,2005.745,
            2006.33,2006.415,2006.67,2006.745,
            2007.49,2007.57,2007.66,2007.75,
            2008.45,2008.71]
pp_obs_v = [1361,970,599,214,42,
            677,967,229,35,
            10.7,98,809,484,126,
            847,847,667,280,66,
            55,306,152,152,
            51,760,352,69,
            17.5,320,172,26.5,
            70,203,802,698,288,20,
            31,233,209,70,
            1636,970,209,16.9,
            847,561]

pp_tri_t = [2002.505, 2002.505]
pp_tri_v = [1006, 476]

########################################################################################################################################

sns.set_style("ticks")
plt.rcParams["font.family"] = ["Liberation Sans", "DejaVu Sans"]
plt.rcParams["mathtext.default"] = "regular"
plt.rcParams["axes.linewidth"] = 0.9

FS = 13

df_chl = pd.DataFrame(chl_line, columns=["year", "value"])
df_pic = pd.DataFrame(pic_line, columns=["year", "value"])
df_zeu = pd.DataFrame(zeu_mld_line, columns=["year", "value"])
df_pp = pd.DataFrame(pp_line, columns=["year", "value"])

fig = plt.figure(figsize=(10.02, 7.6), dpi=100)
ax_a = fig.add_axes([0.0968, 0.6987, 0.8393, 0.2789])
ax_b = fig.add_axes([0.0968, 0.3684, 0.8393, 0.2750])
ax_c = fig.add_axes([0.0968, 0.0368, 0.8393, 0.2750])
ax_b2 = ax_b.twinx()


def style_x(ax):
    ax.set_xlim(1998, 2009)
    ax.xaxis.set_major_locator(MultipleLocator(1))
    ax.xaxis.set_minor_locator(MultipleLocator(1 / 12))
    ax.xaxis.set_major_formatter(FuncFormatter(lambda v, p: "%d" % round(v)))
    ax.tick_params(axis="x", which="both", direction="out", top=True, bottom=True, width=0.8, colors="black")
    ax.tick_params(axis="x", which="major", length=4.5, labelsize=FS, pad=2)
    ax.tick_params(axis="x", which="minor", length=2)
    ax.set_xlabel("")
    for s in ax.spines.values():
        s.set_visible(True)
        s.set_color("black")


def style_log_y(ax, ticks, lims):
    ax.set_yscale("log")
    ax.set_ylim(*lims)
    ax.yaxis.set_major_locator(FixedLocator(ticks))
    ax.yaxis.set_minor_locator(NullLocator())
    ax.yaxis.set_major_formatter(FuncFormatter(lambda v, p: "%g" % v))
    ax.tick_params(axis="y", which="major", direction="out", length=5, width=0.8, left=True, right=True,
                   labelright=False, labelsize=FS, pad=3)


# (a) Chl
style_log_y(ax_a, [0.01, 0.02, 0.05, 0.1, 0.2, 0.5, 1, 2], (0.01, 4.1))
sns.lineplot(data=df_chl, x="year", y="value", ax=ax_a, color="black", linewidth=0.7, estimator=None, errorbar=None)
sns.scatterplot(x=chl_obs_t, y=chl_obs_v, ax=ax_a, color="black", s=40, edgecolor="none", zorder=4)
style_x(ax_a)
ax_a.set_ylabel("Chl (mg m$^{-3}$)", fontsize=FS)
ax_a.text(0.982, 0.90, "(a)", transform=ax_a.transAxes, ha="right", va="center", fontsize=FS, fontweight="bold")

# (b) PIC and Zeu/MLD
ax_b2.set_ylim(0, 10)
sns.lineplot(data=df_zeu, x="year", y="value", ax=ax_b2, color="#1010ff", linewidth=1.3, estimator=None, errorbar=None)
ax_b.set_zorder(ax_b2.get_zorder() + 1)
ax_b.patch.set_visible(False)
sns.lineplot(data=df_pic, x="year", y="value", ax=ax_b, color="black", linewidth=0.7, estimator=None, errorbar=None)
sns.scatterplot(x=pic_obs_t, y=pic_obs_v, ax=ax_b, color="black", s=42, edgecolor="none", zorder=4)
ax_b.set_ylim(0, 35)
ax_b.yaxis.set_major_locator(MultipleLocator(5))
ax_b.yaxis.set_minor_locator(MultipleLocator(1))
ax_b.tick_params(axis="y", which="both", direction="out", left=True, right=False, width=0.8)
ax_b.tick_params(axis="y", which="major", length=5, labelsize=FS, pad=3)
ax_b.tick_params(axis="y", which="minor", length=2)
style_x(ax_b)
ax_b.set_ylabel("PIC (mg m$^{-3}$)", fontsize=FS)
ax_b2.yaxis.set_major_locator(MultipleLocator(2))
ax_b2.yaxis.set_minor_locator(MultipleLocator(1))
ax_b2.tick_params(axis="y", which="both", direction="out", right=True, left=False, width=0.8)
ax_b2.tick_params(axis="y", which="major", length=5, labelsize=FS, pad=3)
ax_b2.tick_params(axis="y", which="minor", length=2)
ax_b2.set_xlim(1998, 2009)
ax_b2.set_xlabel("")
ax_b2.set_ylabel("Zeu/MLD (meters)", fontsize=FS, labelpad=8)
ax_b.text(0.982, 0.935, "(b)", transform=ax_b.transAxes, ha="right", va="center", fontsize=FS, fontweight="bold")

# (c) PP
style_log_y(ax_c, [10, 20, 50, 100, 200, 500, 1000, 2000], (10, 3160))
sns.lineplot(data=df_pp, x="year", y="value", ax=ax_c, color="black", linewidth=0.7, estimator=None, errorbar=None)
sns.scatterplot(x=pp_obs_t, y=pp_obs_v, ax=ax_c, color="black", s=24, edgecolor="none", zorder=4)
sns.scatterplot(x=pp_tri_t, y=pp_tri_v, ax=ax_c, color="#00ee00", marker="^", s=260, edgecolor="none", zorder=5)
style_x(ax_c)
ax_c.set_ylabel("PP (mgC m$^{-2}$ d$^{-1}$)", fontsize=FS)
ax_c.text(0.982, 0.93, "(c)", transform=ax_c.transAxes, ha="right", va="center", fontsize=FS, fontweight="bold")

fig.savefig("out.png", dpi=100)
